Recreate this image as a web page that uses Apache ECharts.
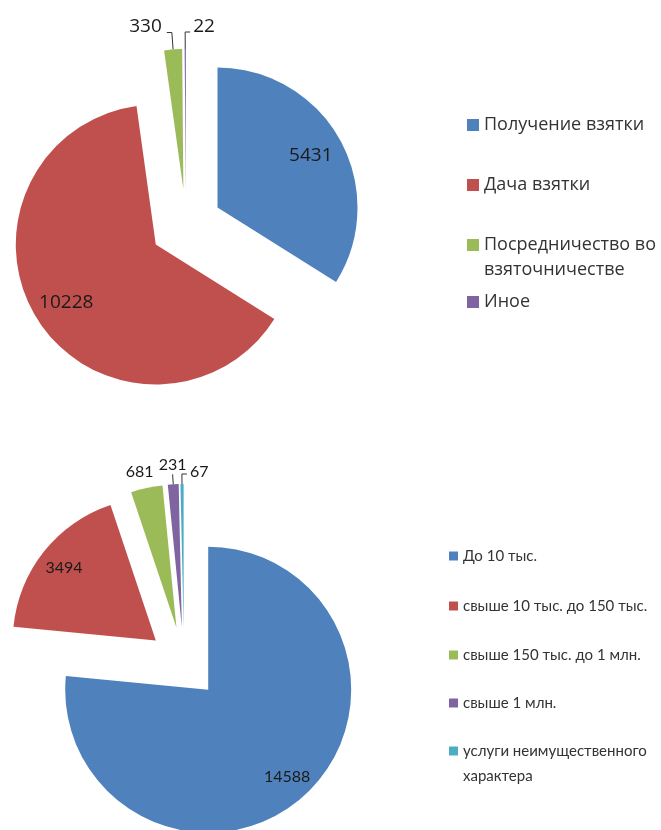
<!DOCTYPE html>
<html>
<head>
<meta charset="utf-8">
<script src="https://cdn.jsdelivr.net/npm/echarts@6/dist/echarts.min.js"></script>
<style>
html, body { margin: 0; padding: 0; background: #fff; }
#chart { width: 661px; height: 830px; }
</style>
</head>
<body>
<div id="chart"></div>
<script>
// виды преступлений
const bribeTypes = ['Получение взятки', 'Дача взятки', 'Посредничество во взяточничестве', 'Иное'];
const bribeCounts = [5431, 10228, 330, 22];
// размер взятки
const sizeGroups = ['До 10 тыс.', 'свыше 10 тыс. до 150 тыс.', 'свыше 150 тыс. до 1 млн.', 'свыше 1 млн.', 'услуги неимущественного характера'];
const sizeCounts = [14588, 3494, 681, 231, 67];

const colors = ['#4F81BD', '#C0504D', '#9BBB59', '#8064A2', '#4BACC6'];

// geometry / label style of the two pies
const pies = [
  { center: [186, 225], r: 140, offset: 36, font: 'Open Sans', size: 19, inner: 0.24, line: 17, lift: 0.3,
    sides: ['', '', 'left', 'right'] },
  { center: [184, 663], r: 143, offset: 36, font: 'Lato', size: 16, inner: 0.3, line: 10, lift: 0.15,
    sides: ['', '', 'bare', 'top', 'right'] }
];
const LEN2 = 5;   // horizontal part of the leader line
const GAP = 5;    // gap between line and text (echarts default)

function midAngles(vals) {
  const tot = vals.reduce((s, v) => s + v, 0);
  let acc = 0;
  return vals.map(v => { const a = (acc + v / 2) / tot * 2 * Math.PI; acc += v; return a; });
}

function wrap(name, max) {
  const words = name.split(' ');
  const lines = [];
  let cur = '';
  words.forEach(w => {
    if (cur && (cur + ' ' + w).length > max) { lines.push(cur); cur = w; }
    else cur = cur ? cur + ' ' + w : w;
  });
  lines.push(cur);
  return lines;
}

function pieSeries(names, vals, p) {
  const tot = vals.reduce((s, v) => s + v, 0);
  const mids = midAngles(vals);
  return {
    type: 'pie',
    center: p.center,
    radius: [0, p.r],
    startAngle: 90,
    clockwise: true,
    selectedMode: 'multiple',
    selectedOffset: p.offset,
    avoidLabelOverlap: false,
    animation: false,
    itemStyle: { borderWidth: 0 },
    emphasis: { disabled: true },
    data: names.map((n, i) => {
      const small = vals[i] / tot < 0.1;
      return {
        name: n,
        value: vals[i],
        selected: true,
        itemStyle: { color: colors[i] },
        label: {
          show: true,
          position: small ? 'outside' : 'inside',
          color: '#1a1a1a',
          fontFamily: p.font,
          fontSize: p.size,
          formatter: '{c}'
        },
        labelLine: {
          show: small, length: p.line, length2: LEN2, smooth: false,
          lineStyle: { color: '#333', width: 1, opacity: p.sides[i] === 'bare' ? 0 : 1 }
        }
      };
    }),
    labelLayout: function (params) {
      const i = params.dataIndex;
      const a = mids[i];
      if (vals[i] / tot >= 0.1) {
        const k = p.r * p.inner;
        return { dx: Math.sin(a) * k, dy: -Math.cos(a) * k };
      }
      const pts = params.labelLinePoints;
      const rect = params.labelRect;
      if (!pts) return {};
      const p0 = pts[0], p1 = pts[1];
      const side = p.sides[i];
      const lift = -rect.height * p.lift;
      if (side === 'right') {
        return {
          dx: LEN2 * 2 + GAP * 2 + rect.width - 2,
          dy: lift,
          labelLinePoints: [p0, p1, [p1[0] + LEN2, p1[1]]]
        };
      }
      if (side === 'top') {
        return {
          dx: LEN2 + GAP + rect.width / 2,
          dy: -rect.height / 2 - 1,
          labelLinePoints: [p0, p1, p1]
        };
      }
      if (side === 'bare') {
        return {
          dx: (p0[0] - p1[0]) + LEN2 + GAP + 7,
          dy: (p0[1] - p1[1]) - rect.height
        };
      }
      return { dy: lift };
    }
  };
}

// legend rows; a wrapped name gets an empty line on top so the marker stays on its first line
function legendItem(name, y, opts) {
  const extra = wrap(name, 25).length - 1;
  return {
    orient: 'vertical',
    left: opts.left,
    top: y - opts.lh / 2 - extra * opts.lh,
    padding: 0,
    data: [name],
    icon: 'rect',
    itemWidth: opts.mark,
    itemHeight: opts.mark,
    selectedMode: false,
    formatter: n => {
      const lines = wrap(n, 25);
      return (lines.length > 1 ? '\n'.repeat(lines.length - 1) : '') + lines.join('\n');
    },
    textStyle: { fontFamily: opts.font, fontSize: opts.size, color: '#333', lineHeight: opts.lh }
  };
}

// y centres of legend rows
const topLegendY = [125, 185, 245, 302];
const bottomLegendY = [556, 606, 655, 703, 751];

const topOpts = { left: 467, mark: 12, font: 'Open Sans', size: 18, lh: 25 };
const bottomOpts = { left: 449, mark: 9, font: 'Lato', size: 15, lh: 25 };

const chart = echarts.init(document.getElementById('chart'), null, { renderer: 'canvas' });
chart.setOption({
  backgroundColor: '#fff',
  legend: bribeTypes.map((n, i) => legendItem(n, topLegendY[i], topOpts))
    .concat(sizeGroups.map((n, i) => legendItem(n, bottomLegendY[i], bottomOpts))),
  series: [
    pieSeries(bribeTypes, bribeCounts, pies[0]),
    pieSeries(sizeGroups, sizeCounts, pies[1])
  ]
});
</script>
</body>
</html>
